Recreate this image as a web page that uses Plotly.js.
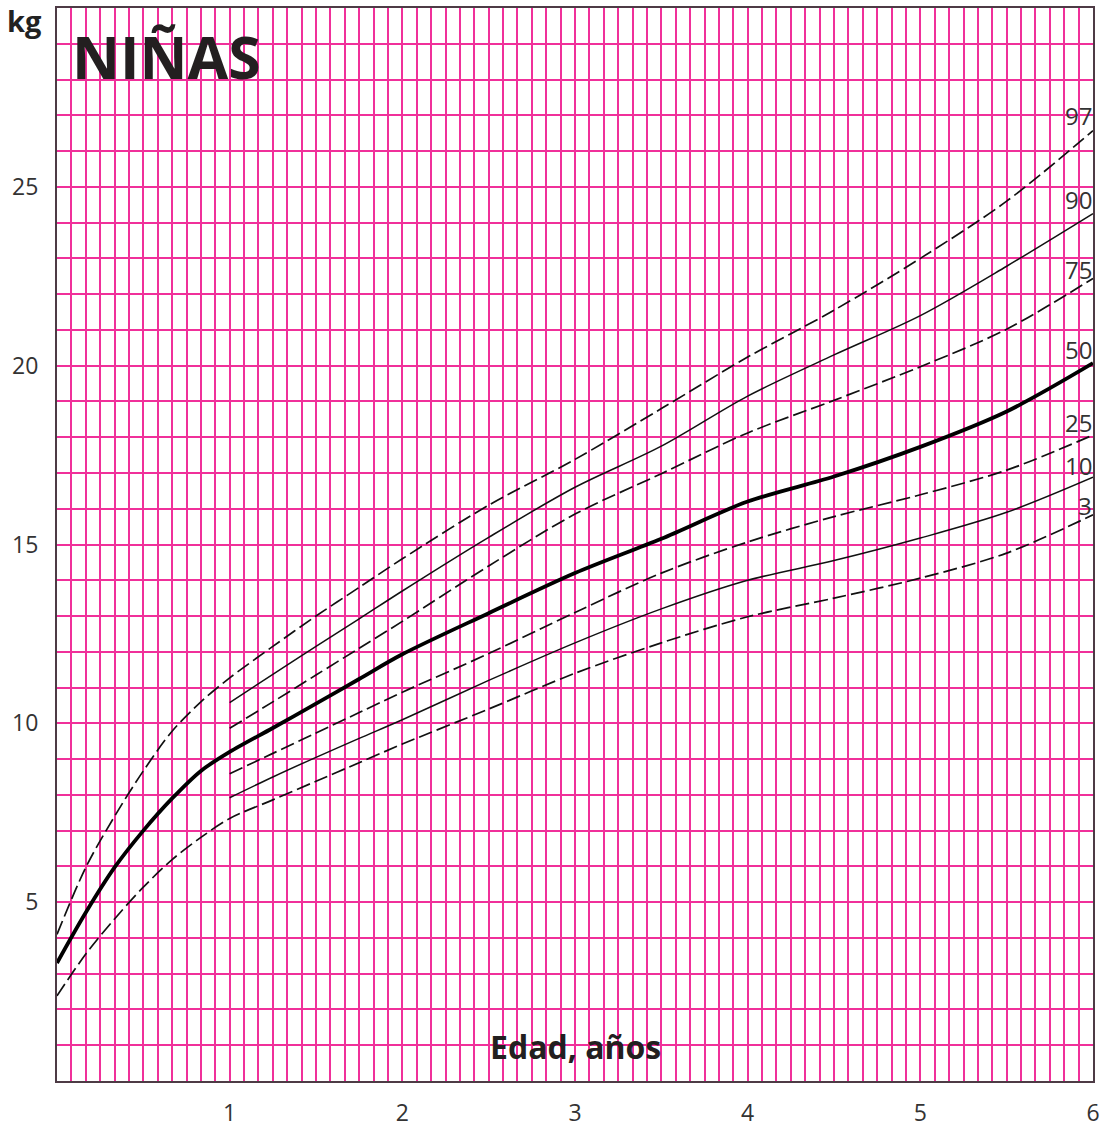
<!DOCTYPE html>
<html>
<head>
<meta charset="utf-8">
<script src="https://cdn.plot.ly/plotly-3.0.1.min.js"></script>
<style>html,body{margin:0;padding:0;background:#fff;}#chart{width:1117px;height:1127px;}</style>
</head>
<body>
<div id="chart"></div>
<script>
// Age in years
const ages = [0, 1/6, 2/6, 3/6, 4/6, 5/6, 1, 1.25, 1.5, 1.75, 2, 2.5, 3, 3.5, 4, 4.5, 5, 5.5, 6];
// Weight percentiles (kg)
const p97 = [4.1, 5.97, 7.4, 8.67, 9.78, 10.6, 11.27, 12.15, 13.0, 13.8, 14.6, 16.1, 17.38, 18.8, 20.24, 21.55, 23.0, 24.6, 26.57];
const p90 = [null, null, null, null, null, null, 10.58, 11.37, 12.15, 12.92, 13.7, 15.2, 16.6, 17.75, 19.15, 20.3, 21.4, 22.78, 24.25];
const p75 = [null, null, null, null, null, null, 9.86, 10.6, 11.35, 12.1, 12.85, 14.4, 15.85, 16.98, 18.12, 19.03, 19.97, 21.02, 22.44];
const p50 = [3.3, 4.71, 5.97, 7.0, 7.9, 8.67, 9.2, 9.87, 10.55, 11.24, 11.93, 13.08, 14.2, 15.16, 16.2, 16.9, 17.73, 18.72, 20.07];
const p25 = [null, null, null, null, null, null, 8.59, 9.16, 9.73, 10.3, 10.87, 11.95, 13.1, 14.2, 15.07, 15.78, 16.39, 17.08, 18.06];
const p10 = [null, null, null, null, null, null, 7.92, 8.5, 9.05, 9.58, 10.1, 11.2, 12.25, 13.2, 14.0, 14.55, 15.18, 15.9, 16.88];
const p3  = [2.38, 3.55, 4.53, 5.42, 6.19, 6.81, 7.34, 7.86, 8.38, 8.9, 9.42, 10.4, 11.4, 12.25, 12.98, 13.5, 14.06, 14.76, 15.83];

const percentileNames = ['97', '90', '75', '50', '25', '10', '3'];
const xTickVals = [1, 2, 3, 4, 5, 6];
const xTickText = ['1', '2', '3', '4', '5', '6'];
const yTickVals = [5, 10, 15, 20, 25];
const yTickText = ['5', '10', '15', '20', '25'];

// grid: every month on x, every kg on y; labels only at the tick values above
const xGrid = [], xGridText = [];
for (let m = 1; m <= 72; m++) {
  const v = m / 12;
  xGrid.push(v);
  const k = xTickVals.findIndex(t => Math.abs(t - v) < 1e-9);
  xGridText.push(k >= 0 ? xTickText[k] : '');
}
const yGrid = [], yGridText = [];
for (let kg = 1; kg <= 29; kg++) {
  yGrid.push(kg);
  const k = yTickVals.indexOf(kg);
  yGridText.push(k >= 0 ? yTickText[k] : '');
}

const series = [p97, p90, p75, p50, p25, p10, p3];
const dashed = {color: '#111', width: 1.7, dash: '14px,5px', shape: 'spline', smoothing: 0.9};
const thin = {color: '#111', width: 1.5, shape: 'spline', smoothing: 0.9};
const thick = {color: '#000', width: 3.8, shape: 'spline', smoothing: 0.9};
const styles = [dashed, thin, dashed, thick, dashed, thin, dashed];

const traces = series.map((s, i) => ({
  x: ages, y: s, type: 'scatter', mode: 'lines', name: 'P' + percentileNames[i],
  line: styles[i], connectgaps: false, hoverinfo: 'x+y'
}));

const labelY = [27.0, 24.65, 22.7, 20.45, 18.4, 17.2, 16.1];
const annotations = percentileNames.map((n, i) => ({
  x: 6, y: labelY[i], xref: 'x', yref: 'y', text: n, showarrow: false,
  xanchor: 'right', yanchor: 'middle', xshift: 1,
  font: {family: 'Open Sans, sans-serif', size: 24, color: '#333'}
}));
annotations.push({
  xref: 'paper', yref: 'paper', x: -0.05, y: 0.988, text: 'kg', showarrow: false,
  xanchor: 'left', yanchor: 'middle',
  font: {family: 'Open Sans, sans-serif', size: 29, color: '#222', weight: 700}
});
annotations.push({
  xref: 'paper', yref: 'paper', x: 0.0125, y: 0.994, text: 'NIÑAS', showarrow: false,
  xanchor: 'left', yanchor: 'top',
  font: {family: 'Open Sans, sans-serif', size: 59, color: '#231f20', weight: 700}
});
annotations.push({
  xref: 'x', yref: 'y', x: 3, y: 0.97, text: 'Edad, años', showarrow: false,
  xanchor: 'center', yanchor: 'middle',
  font: {family: 'Open Sans, sans-serif', size: 32, color: '#231f20', weight: 700}
});

const gridColor = '#f0309a';
const layout = {
  width: 1117, height: 1127,
  margin: {l: 57, r: 24, t: 8, b: 46},
  paper_bgcolor: '#fff', plot_bgcolor: '#fff',
  showlegend: false,
  xaxis: {
    range: [0, 6], tickmode: 'array', tickvals: xGrid, ticktext: xGridText,
    showgrid: true, gridcolor: gridColor, gridwidth: 2,
    ticks: 'outside', ticklen: 10, tickcolor: 'rgba(0,0,0,0)',
    showline: true, linecolor: '#4d3b45', linewidth: 2, mirror: true,
    zeroline: false,
    tickfont: {family: 'Open Sans, sans-serif', size: 23, color: '#333'}
  },
  yaxis: {
    range: [0, 30], tickmode: 'array', tickvals: yGrid, ticktext: yGridText,
    showgrid: true, gridcolor: gridColor, gridwidth: 2,
    ticks: 'outside', ticklen: 12, tickcolor: 'rgba(0,0,0,0)',
    showline: true, linecolor: '#4d3b45', linewidth: 2, mirror: true,
    zeroline: false,
    tickfont: {family: 'Open Sans, sans-serif', size: 23, color: '#333'}
  },
  annotations: annotations
};

Plotly.newPlot('chart', traces, layout, {displayModeBar: false, staticPlot: true});
</script>
</body>
</html>
